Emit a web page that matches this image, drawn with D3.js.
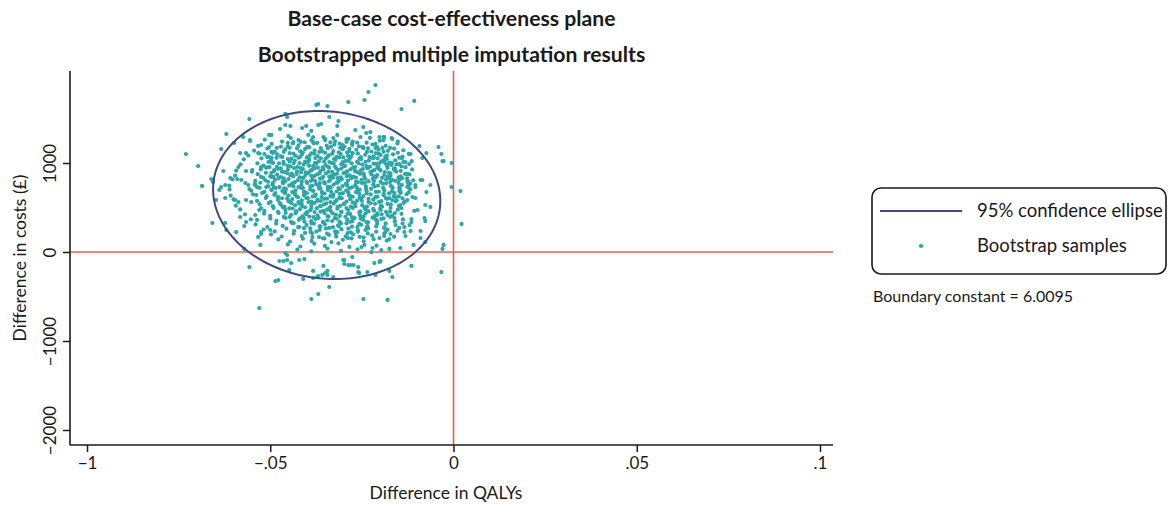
<!DOCTYPE html>
<html><head><meta charset="utf-8">
<script src="https://cdn.jsdelivr.net/npm/d3@7"></script>
<style>body{margin:0;background:#fff}svg{display:block;font-family:Lato,"Open Sans",sans-serif}</style>
</head><body><svg id="c" width="1168" height="506"></svg>
<script>
const titles = ["Base-case cost-effectiveness plane","Bootstrapped multiple imputation results"];
const xTickValues = [-0.1,-0.05,0,0.05,0.1];
const xTickLabels = ["\u22121","\u2212.05","0",".05",".1"];
const yTickValues = [-2000,-1000,0,1000];
const yTickLabels = ["\u22122000","\u22121000","0","1000"];
const xLabel = "Difference in QALYs";
const yLabel = "Difference in costs (\u00a3)";
const legendLabels = ["95% confidence ellipse","Bootstrap samples"];
const note = "Boundary constant = 6.0095";
// ellipse: centre (QALY, cost), half-extents, correlation
const ellipseCentre = [-0.0346, 640];
const ellipseHalfExtent = [0.0310, 944];
const ellipseRho = [-0.07];

// scattered / edge samples [QALY difference, cost difference]
const edgeSamples = [
[-.0730,1101],[-.0697,966],[-.0686,742],[-.0620,1326],[-.0634,1157],[-.0598,1225],[-.0557,1494],[-.0574,1292],[-.0555,1258],
[-.0374,1652],[-.0369,1663],[-.0344,1640],[-.0287,1685],[-.0243,1708],[-.0232,1798],[-.0213,1876],[-.0107,1697],[-.0142,1607],
[-.0459,1551],[-.0454,1517],[-.0339,1517],[-.0314,1472],[-.0317,1416],[-.0503,1315],[-.0473,1382],[-.0459,1427],[-.0445,1416],
[-.0413,1393],[-.0402,1416],[-.0388,1360],[-.0369,1427],[-.0361,1438],[-.0268,1371],[-.0246,1404],[-.0238,1337],[-.0227,1348],
[-.0202,1292],[-.0191,1292],[-.0167,1270],[-.0093,1191],[-.0074,1112],[-.0041,1180],[-.0033,1101],[-.0030,1022],[-.0005,1000],
[.0019,685],[-.0117,1101],[-.0131,1011],[-.0148,989],[-.0169,978],[-.0090,809],[-.0085,809],[-.0148,809],[-.0123,876],[-.0123,753],
[-.0063,753],[-.0005,730],[-.0658,326],[-.0623,326],[-.0620,247],[-.0593,225],[-.0571,34],[-.0557,-169],[-.0530,-629],[-.0486,-326],
[-.0475,-101],[-.0464,-101],[-.0459,-11],[-.0454,-34],[-.0448,-202],[-.0443,-124],[-.0421,-90],[-.0407,-79],[-.0410,-303],[-.0388,-528],
[-.0383,-213],[-.0383,-292],[-.0369,-472],[-.0372,-281],[-.0355,-157],[-.0350,-236],[-.0339,-393],[-.0328,-281],[-.0301,-90],[-.0298,-135],
[-.0281,-146],[-.0276,-56],[-.0260,-169],[-.0257,-236],[-.0246,-528],[-.0216,-124],[-.0199,-101],[-.0213,-258],[-.0180,-539],[-.0175,-213],
[-.0167,-281],[-.0115,-157],[-.0033,-225],[-.0027,79],[-.0030,34],[.0022,315],
[-.0189,1292],[-.0191,1258],[-.0169,1281],[-.0085,1056],[-.0027,1022],[-.0137,1011],[-.0126,876],[-.0104,753],[-.0104,730],[-.0074,674],
[-.0126,787],[-.0123,730],[-.0167,809],[-.0175,831],[-.0180,843],[-.0148,730],[-.0145,685],[-.0161,663],[-.0213,1169],[-.0221,1056],
[-.0216,921],[-.0202,1000],[-.0194,1169],[-.0199,1090],[-.0189,1034],[-.0186,1000],[-.0175,1000],[-.0161,921],[-.0180,944],[-.0208,865],[-.0216,843],
[-.0077,112],[-.0090,157],[-.0090,236],[-.0109,79],[-.0145,45],[-.0175,34],[-.0197,22],[-.0221,45],[-.0202,-112],
[-.0063,506],[-.0077,528],[-.0079,382],[-.0077,348],[-.0115,371],[-.0115,337],[-.0120,303],[-.0117,236],[-.0134,281],[-.0148,270],
[-.0131,180],[-.0134,225],[-.0172,202],[-.0175,146],[-.0186,225],[-.0189,270],[-.0202,157],[-.0189,180],[-.0107,461],[-.0098,472],
[-.0142,494],[-.0145,528],[-.0126,584],[-.0104,607],[-.0112,618],[-.0167,584],[-.0175,607],[-.0158,618],[-.0199,472],[-.0208,416],
[-.0216,382],[-.0180,416],[-.0161,382],
[-.0582,393],[-.0571,292],[-.0566,337],[-.0533,169],[-.0525,202],[-.0527,79],[-.0648,584],[-.0623,607],[-.0596,584],[-.0587,562],
[-.0566,584],[-.0552,562],[-.0541,416],[-.0536,360],[-.0530,472],[-.0525,494],[-.0508,281],[-.0500,247],[-.0525,225],
[-.0369,-270],[-.0358,-258],[-.0344,-213],[-.0344,-258],[-.0454,-90],[-.0478,-315],[-.0287,-146],[-.0273,-146],[-.0298,-90],
[-.0260,-225],[-.0235,-225],[-.0251,56],[-.0240,247],[-.0246,360],
[-.0451,1303],[-.0437,1236],[-.0423,1258],[-.0396,1315],[-.0383,1292],[-.0383,1236],[-.0355,1292],[-.0350,1258],[-.0328,1281],
[-.0317,1315],[-.0292,1236],[-.0287,1270],[-.0254,1292],[-.0249,1180],[-.0303,1202],[-.0276,1202],
[-.0555,1247],[-.0525,1202],[-.0533,1112],[-.0516,1101],[-.0508,1067],[-.0497,1124],[-.0497,1056],[-.0503,1180],[-.0497,1315],
[-.0525,955],[-.0505,955],[-.0525,843],[-.0514,809],[-.0497,843],[-.0511,730],[-.0497,697],[-.0492,1000],[-.0489,921],
[-.0541,753],[-.0536,730],[-.0568,775],[-.0560,753],[-.0538,640],
[-.0661,820],[-.0656,787],[-.0628,910],[-.0609,831],[-.0639,697],[-.0634,730],[-.0623,753],[-.0587,955],[-.0582,1112],[-.0566,1112],
[-.0566,910],[-.0549,921],[-.0590,820],[-.0579,809],[-.0557,708]
];

// dense core samples [QALY difference, cost difference]
const coreSamples = [
[-.0515,1262],[-.0468,1241],[-.0444,1281],[-.0406,1233],[-.0387,1256],[-.0351,1274],[-.0323,1244],[-.0292,1266],[-.0263,1230],[-.0228,1283],[-.0201,1251],[-.0152,1240],
[-.0533,1192],[-.0496,1214],[-.0471,1183],[-.0438,1221],[-.0423,1199],[-.0394,1178],[-.0372,1226],[-.0346,1196],[-.0325,1209],[-.0298,1185],[-.0277,1217],[-.0246,1176],[-.0221,1208],[-.0185,1194],[-.0153,1219],
[-.0544,1139],[-.0508,1163],[-.0488,1128],[-.0459,1152],[-.0447,1170],[-.0418,1131],[-.0405,1158],[-.0379,1140],[-.0366,1124],[-.0343,1166],[-.0328,1135],[-.0302,1155],[-.0290,1121],[-.0265,1149],[-.0246,1168],[-.0224,1129],[-.0205,1151],[-.0179,1137],[-.0162,1162],[-.0137,1143],
[-.0560,1084],[-.0529,1107],[-.0506,1073],[-.0481,1098],[-.0467,1068],[-.0447,1112],[-.0432,1081],[-.0414,1095],[-.0400,1064],[-.0380,1104],[-.0371,1077],[-.0350,1115],[-.0340,1086],[-.0319,1069],[-.0308,1100],[-.0288,1079],[-.0275,1110],[-.0253,1066],[-.0241,1093],[-.0218,1074],[-.0204,1106],[-.0182,1083],[-.0165,1097],[-.0139,1071],[-.0122,1102],
[-.0572,1041],[-.0524,1052],[-.0498,1028],[-.0483,1058],[-.0464,1012],[-.0452,1045],[-.0433,1025],[-.0423,1060],[-.0405,1016],[-.0394,1039],[-.0377,1055],[-.0367,1021],[-.0349,1048],[-.0339,1010],[-.0322,1036],[-.0312,1062],[-.0294,1023],[-.0283,1050],[-.0263,1014],[-.0252,1043],[-.0231,1027],[-.0218,1057],[-.0197,1018],[-.0182,1046],[-.0159,1030],[-.0141,1054],[-.0114,1020],
[-.0581,985],[-.0535,996],[-.0518,970],[-.0495,1003],[-.0482,958],[-.0463,989],[-.0453,967],[-.0436,999],[-.0426,955],[-.0409,981],[-.0400,1005],[-.0383,964],[-.0374,992],[-.0357,952],[-.0349,976],[-.0332,1001],[-.0323,960],[-.0306,987],[-.0296,969],[-.0278,997],[-.0268,954],[-.0249,983],[-.0238,966],[-.0218,994],[-.0205,957],[-.0183,979],[-.0168,1000],[-.0142,963],[-.0121,988],
[-.0593,915],[-.0550,903],[-.0526,929],[-.0511,947],[-.0490,908],[-.0479,934],[-.0461,899],[-.0452,924],[-.0435,944],[-.0427,906],[-.0411,932],[-.0403,896],[-.0387,919],[-.0379,942],[-.0363,910],[-.0355,927],[-.0339,948],[-.0331,901],[-.0315,922],[-.0306,938],[-.0290,905],[-.0281,930],[-.0263,897],[-.0253,917],[-.0234,941],[-.0222,909],[-.0201,926],[-.0187,898],[-.0163,935],[-.0144,912],[-.0113,928],
[-.0596,858],[-.0534,874],[-.0512,890],[-.0500,851],[-.0481,869],[-.0471,842],[-.0454,885],[-.0445,860],[-.0428,877],[-.0420,839],[-.0404,864],[-.0396,889],[-.0380,853],[-.0372,872],[-.0356,844],[-.0348,882],[-.0332,857],[-.0324,870],[-.0308,840],[-.0300,887],[-.0283,861],[-.0273,848],[-.0255,878],[-.0244,854],[-.0224,873],[-.0211,843],[-.0189,866],[-.0172,884],[-.0144,850],[-.0120,871],
[-.0603,816],[-.0541,799],[-.0519,834],[-.0506,788],[-.0487,811],[-.0477,830],[-.0459,795],[-.0450,820],[-.0433,784],[-.0425,806],[-.0409,832],[-.0401,790],[-.0385,814],[-.0377,798],[-.0361,826],[-.0353,786],[-.0337,809],[-.0329,835],[-.0313,792],[-.0305,818],[-.0288,802],[-.0279,829],[-.0261,785],[-.0251,812],[-.0232,796],[-.0220,824],[-.0199,789],[-.0184,815],[-.0159,800],[-.0140,831],[-.0110,805],
[-.0612,745],[-.0542,762],[-.0527,778],[-.0506,740],[-.0494,757],[-.0475,730],[-.0465,773],[-.0448,748],[-.0439,765],[-.0423,729],[-.0415,755],[-.0399,776],[-.0391,738],[-.0375,760],[-.0367,744],[-.0351,771],[-.0343,733],[-.0327,758],[-.0319,779],[-.0303,741],[-.0294,763],[-.0277,727],[-.0268,751],[-.0250,775],[-.0239,737],[-.0219,759],[-.0206,746],[-.0184,772],[-.0168,732],[-.0141,754],[-.0118,768],
[-.0611,703],[-.0552,688],[-.0529,721],[-.0516,676],[-.0496,699],[-.0485,718],[-.0467,684],[-.0457,707],[-.0440,673],[-.0431,694],[-.0415,719],[-.0407,679],[-.0391,702],[-.0383,687],[-.0367,714],[-.0359,674],[-.0343,697],[-.0335,722],[-.0319,680],[-.0310,705],[-.0293,690],[-.0284,716],[-.0266,672],[-.0256,700],[-.0237,683],[-.0225,711],[-.0204,677],[-.0189,695],[-.0166,720],[-.0148,686],[-.0118,706],
[-.0608,633],[-.0547,648],[-.0522,664],[-.0510,627],[-.0489,643],[-.0478,617],[-.0460,659],[-.0450,635],[-.0433,651],[-.0424,614],[-.0408,639],[-.0400,662],[-.0384,625],[-.0376,646],[-.0360,618],[-.0352,657],[-.0336,630],[-.0328,644],[-.0311,612],[-.0302,661],[-.0285,636],[-.0275,621],[-.0257,652],[-.0246,628],[-.0226,647],[-.0213,616],[-.0191,640],[-.0176,658],[-.0149,624],[-.0128,649],
[-.0600,591],[-.0536,574],[-.0512,607],[-.0499,563],[-.0479,586],[-.0468,604],[-.0450,570],[-.0440,595],[-.0423,560],[-.0414,581],[-.0397,606],[-.0388,566],[-.0371,589],[-.0362,573],[-.0345,600],[-.0336,561],[-.0319,584],[-.0310,609],[-.0292,567],[-.0282,593],[-.0263,577],[-.0252,603],[-.0232,562],[-.0219,588],[-.0197,571],[-.0181,598],[-.0155,579],[-.0133,565],
[-.0594,521],[-.0529,537],[-.0504,550],[-.0493,515],[-.0471,532],[-.0461,507],[-.0442,548],[-.0432,524],[-.0414,540],[-.0405,503],[-.0388,529],[-.0380,551],[-.0362,514],[-.0353,534],[-.0336,506],[-.0327,544],[-.0309,519],[-.0299,538],[-.0280,509],[-.0269,547],[-.0249,526],[-.0236,511],[-.0214,541],[-.0198,520],[-.0171,535],[-.0148,513],
[-.0582,478],[-.0516,462],[-.0491,494],[-.0479,450],[-.0459,473],[-.0448,491],[-.0429,458],[-.0419,481],[-.0400,447],[-.0391,469],[-.0373,492],[-.0363,454],[-.0345,476],[-.0335,461],[-.0317,487],[-.0306,449],[-.0287,471],[-.0275,495],[-.0254,457],[-.0240,480],[-.0217,465],[-.0200,490],[-.0173,452],[-.0152,475],
[-.0569,423],[-.0517,432],[-.0500,406],[-.0477,438],[-.0463,394],[-.0443,417],[-.0431,436],[-.0412,401],[-.0401,426],[-.0382,392],[-.0371,413],[-.0352,437],[-.0341,398],[-.0321,420],[-.0310,405],[-.0289,430],[-.0277,391],[-.0255,414],[-.0240,435],[-.0215,402],[-.0196,424],[-.0167,409],[-.0142,429],
[-.0553,367],[-.0500,376],[-.0483,350],[-.0458,382],[-.0443,338],[-.0422,361],[-.0409,380],[-.0388,346],[-.0376,370],[-.0356,336],[-.0344,357],[-.0324,381],[-.0311,341],[-.0290,364],[-.0276,349],[-.0253,374],[-.0237,335],[-.0210,358],[-.0191,378],[-.0160,345],[-.0138,366],
[-.0540,310],[-.0484,319],[-.0466,293],[-.0440,325],[-.0424,281],[-.0401,304],[-.0387,322],[-.0365,289],[-.0351,313],[-.0329,279],[-.0315,300],[-.0292,324],[-.0277,284],[-.0252,307],[-.0235,292],[-.0208,317],[-.0188,280],[-.0158,302],[-.0139,320],
[-.0518,253],[-.0488,231],[-.0456,262],[-.0435,237],[-.0408,268],[-.0390,226],[-.0365,249],[-.0348,265],[-.0323,233],[-.0306,256],[-.0280,222],[-.0261,244],[-.0233,266],[-.0211,229],[-.0180,251],[-.0153,240],
[-.0498,197],[-.0469,174],[-.0436,205],[-.0414,180],[-.0386,210],[-.0367,168],[-.0340,192],[-.0321,208],[-.0294,176],[-.0274,199],[-.0245,165],[-.0222,186],[-.0189,207],[-.0162,172],
[-.0478,141],[-.0446,118],[-.0411,150],[-.0387,124],[-.0356,154],[-.0333,112],[-.0302,137],[-.0278,153],[-.0245,120],[-.0218,144],[-.0182,128],
[-.0452,85],[-.0418,62],[-.0380,93],[-.0351,68],[-.0314,98],[-.0284,57],[-.0243,81],[-.0210,71],
[-.0426,28],[-.0388,6],[-.0344,37],[-.0307,12],[-.0262,30],[-.0224,-2]
];

// extra samples where the cloud is densest [QALY difference, cost difference]
const centreSamples = [
[-.0452,1226],[-.0417,1238],[-.0381,1221],[-.0336,1233],[-.0311,1219],[-.0275,1240],[-.0237,1228],[-.0213,1216],
[-.0482,1171],[-.0452,1186],[-.0427,1164],[-.0399,1181],[-.0362,1168],[-.0334,1183],[-.0309,1172],[-.0284,1160],[-.0258,1187],[-.0233,1166],[-.0208,1179],[-.0173,1169],
[-.0493,1113],[-.0463,1126],[-.0437,1106],[-.0411,1121],[-.0388,1109],[-.0357,1130],[-.0331,1104],[-.0313,1119],[-.0284,1132],[-.0261,1108],[-.0236,1124],[-.0212,1111],[-.0191,1127],[-.0152,1115],
[-.0497,1058],[-.0471,1075],[-.0442,1049],[-.0419,1067],[-.0393,1081],[-.0362,1052],[-.0344,1070],[-.0326,1045],[-.0301,1063],[-.0279,1077],[-.0257,1048],[-.0229,1066],[-.0207,1053],[-.0186,1072],[-.0148,1059],
[-.0505,1011],[-.0476,996],[-.0447,1018],[-.0420,999],[-.0395,1022],[-.0378,1001],[-.0353,1015],[-.0327,993],[-.0302,1009],[-.0286,1024],[-.0259,997],[-.0240,1013],[-.0211,990],[-.0193,1018],[-.0174,1004],[-.0155,986],
[-.0502,955],[-.0471,941],[-.0445,962],[-.0418,944],[-.0394,968],[-.0370,947],[-.0343,958],[-.0320,938],[-.0298,964],[-.0274,950],[-.0247,935],[-.0228,960],[-.0208,945],[-.0180,966],[-.0160,940],[-.0131,953],
[-.0497,887],[-.0468,903],[-.0441,880],[-.0416,897],[-.0390,914],[-.0366,884],[-.0341,901],[-.0318,879],[-.0294,894],[-.0269,911],[-.0245,882],[-.0227,899],[-.0199,915],[-.0176,888],[-.0156,904],[-.0132,877],
[-.0491,843],[-.0463,828],[-.0437,850],[-.0412,832],[-.0388,855],[-.0364,825],[-.0339,846],[-.0316,830],[-.0291,852],[-.0266,836],[-.0241,824],[-.0215,849],[-.0195,833],[-.0172,856],[-.0150,838],[-.0127,827],
[-.0493,776],[-.0466,792],[-.0440,770],[-.0414,788],[-.0389,800],[-.0365,773],[-.0340,795],[-.0317,779],[-.0292,769],[-.0266,790],[-.0242,776],[-.0217,799],[-.0193,768],[-.0173,786],[-.0150,774],[-.0124,793],
[-.0490,730],[-.0462,716],[-.0437,738],[-.0411,720],[-.0386,742],[-.0363,712],[-.0337,733],[-.0314,719],[-.0290,745],[-.0264,724],[-.0239,710],[-.0215,736],[-.0192,721],[-.0171,743],[-.0147,715],[-.0126,732],
[-.0486,663],[-.0459,680],[-.0433,657],[-.0408,674],[-.0383,686],[-.0358,660],[-.0334,677],[-.0310,654],[-.0287,669],[-.0262,688],[-.0237,659],[-.0212,676],[-.0190,652],[-.0168,682],[-.0144,665],[-.0122,671],
[-.0480,617],[-.0454,602],[-.0428,624],[-.0402,607],[-.0378,630],[-.0353,598],[-.0329,620],[-.0305,605],[-.0281,627],[-.0256,611],[-.0232,596],[-.0208,622],[-.0185,606],[-.0163,628],[-.0139,603],
[-.0474,551],[-.0447,567],[-.0421,544],[-.0396,561],[-.0372,573],[-.0347,547],[-.0323,565],[-.0299,541],[-.0275,558],[-.0250,575],[-.0226,548],[-.0203,563],[-.0180,540],[-.0158,569],[-.0136,553],
[-.0466,505],[-.0439,489],[-.0413,511],[-.0388,494],[-.0364,517],[-.0340,486],[-.0316,508],[-.0292,493],[-.0268,514],[-.0243,498],[-.0219,484],[-.0195,509],[-.0172,495],[-.0149,516],
[-.0458,439],[-.0430,455],[-.0404,432],[-.0379,449],[-.0355,461],[-.0330,435],[-.0306,452],[-.0282,428],[-.0257,446],[-.0232,459],[-.0208,433],[-.0184,450],[-.0160,438],
[-.0447,393],[-.0419,378],[-.0393,399],[-.0368,383],[-.0344,404],[-.0319,375],[-.0295,396],[-.0270,381],[-.0245,401],[-.0221,386],[-.0197,372],[-.0173,395],
[-.0436,326],[-.0407,342],[-.0381,319],[-.0356,336],[-.0331,347],[-.0307,322],[-.0282,339],[-.0257,316],[-.0233,333],[-.0209,345],[-.0185,321],
[-.0421,280],[-.0391,266],[-.0364,287],[-.0339,270],[-.0313,291],[-.0287,263],[-.0262,282],[-.0237,268],[-.0211,289],
[-.0405,214],[-.0374,229],[-.0345,207],[-.0317,224],[-.0289,212],[-.0261,230],[-.0234,209],
[-.0385,168],[-.0352,152],[-.0320,173],[-.0288,157],[-.0256,170]
];

const svg = d3.select("#c");
const ink = "#1a1a1a", teal = "#2ba6a9", navy = "#3e4a7e", red = "#e8604c";
const x = d3.scaleLinear().domain([-0.1,0.1]).range([87,820]);
const y = d3.scaleLinear().domain([-2000,1000]).range([430,163]);
const plotL = 70, plotR = 833, plotT = 71, plotB = 445;

// titles
svg.selectAll("text.title").data(titles).join("text").attr("class","title")
  .attr("x",(plotL+plotR)/2).attr("y",(d,i)=>26+i*36)
  .attr("text-anchor","middle").attr("font-weight","bold").attr("font-size",21.2).attr("fill",ink).text(d=>d);

// reference lines
svg.append("line").attr("x1",plotL).attr("x2",plotR).attr("y1",y(0)).attr("y2",y(0)).attr("stroke",red).attr("stroke-width",1.6);
svg.append("line").attr("x1",x(0)).attr("x2",x(0)).attr("y1",plotT).attr("y2",plotB).attr("stroke",red).attr("stroke-width",1.6);

// axes
const xAxis = d3.axisBottom(x).tickValues(xTickValues).tickFormat((d,i)=>xTickLabels[i]).tickSize(7).tickSizeOuter(0).tickPadding(5);
const gx = svg.append("g").attr("transform",`translate(0,${plotB})`).call(xAxis);
gx.select(".domain").remove();
gx.selectAll(".tick line").attr("stroke",ink).attr("stroke-width",1.5);
gx.selectAll(".tick text").attr("font-size",17).attr("fill",ink).attr("font-family","Lato");
svg.append("line").attr("x1",plotL).attr("x2",plotR).attr("y1",plotB).attr("y2",plotB).attr("stroke",ink).attr("stroke-width",1.6);

const yAxis = d3.axisLeft(y).tickValues(yTickValues).tickFormat((d,i)=>yTickLabels[i]).tickSize(7).tickSizeOuter(0).tickPadding(5);
const gy = svg.append("g").attr("transform",`translate(${plotL},0)`).call(yAxis);
gy.select(".domain").remove();
gy.selectAll(".tick line").attr("stroke",ink).attr("stroke-width",1.5);
gy.selectAll(".tick text").attr("font-size",17).attr("fill",ink).attr("font-family","Lato")
  .attr("text-anchor","middle").attr("dy",null).attr("x",null)
  .attr("transform","translate(-18,0) rotate(-90)").attr("dominant-baseline","middle");
svg.append("line").attr("x1",plotL).attr("x2",plotL).attr("y1",plotT).attr("y2",plotB).attr("stroke",ink).attr("stroke-width",1.6);

// axis titles
svg.append("text").attr("x",446).attr("y",499).attr("text-anchor","middle").attr("font-size",17.5).attr("fill",ink).text(xLabel);
svg.append("text").attr("transform",`translate(26,${(plotT+plotB)/2}) rotate(-90)`).attr("text-anchor","middle").attr("font-size",17.5).attr("fill",ink).text(yLabel);

// points
const allSamples = coreSamples.concat(centreSamples, edgeSamples);
svg.append("g").selectAll("circle").data(allSamples).join("circle")
  .attr("cx",d=>x(d[0])).attr("cy",d=>y(d[1])).attr("r",2.1).attr("fill",teal);

// ellipse
const ts = d3.range(0,361,2).map(t=>t*Math.PI/180);
const rho = ellipseRho[0];
const ell = ts.map(t=>[ellipseCentre[0]+ellipseHalfExtent[0]*Math.cos(t),
  ellipseCentre[1]+ellipseHalfExtent[1]*(rho*Math.cos(t)+Math.sqrt(1-rho*rho)*Math.sin(t))]);
svg.append("path").datum(ell).attr("d",d3.line().x(d=>x(d[0])).y(d=>y(d[1])).curve(d3.curveLinearClosed))
  .attr("fill","none").attr("stroke",navy).attr("stroke-width",2);

// legend
const lg = svg.append("g");
lg.append("rect").attr("x",872).attr("y",188).attr("width",294).attr("height",86).attr("rx",9)
  .attr("fill","none").attr("stroke",ink).attr("stroke-width",1.6);
lg.append("line").attr("x1",880).attr("x2",962).attr("y1",211).attr("y2",211).attr("stroke",navy).attr("stroke-width",2);
lg.append("circle").attr("cx",921).attr("cy",246).attr("r",2.1).attr("fill",teal);
lg.selectAll("text").data(legendLabels).join("text").attr("x",977).attr("y",(d,i)=>217+i*35)
  .attr("font-size",18.5).attr("fill",ink).text(d=>d);
svg.append("text").attr("x",873).attr("y",302).attr("font-size",16).attr("fill",ink).text(note);
</script></body></html>
